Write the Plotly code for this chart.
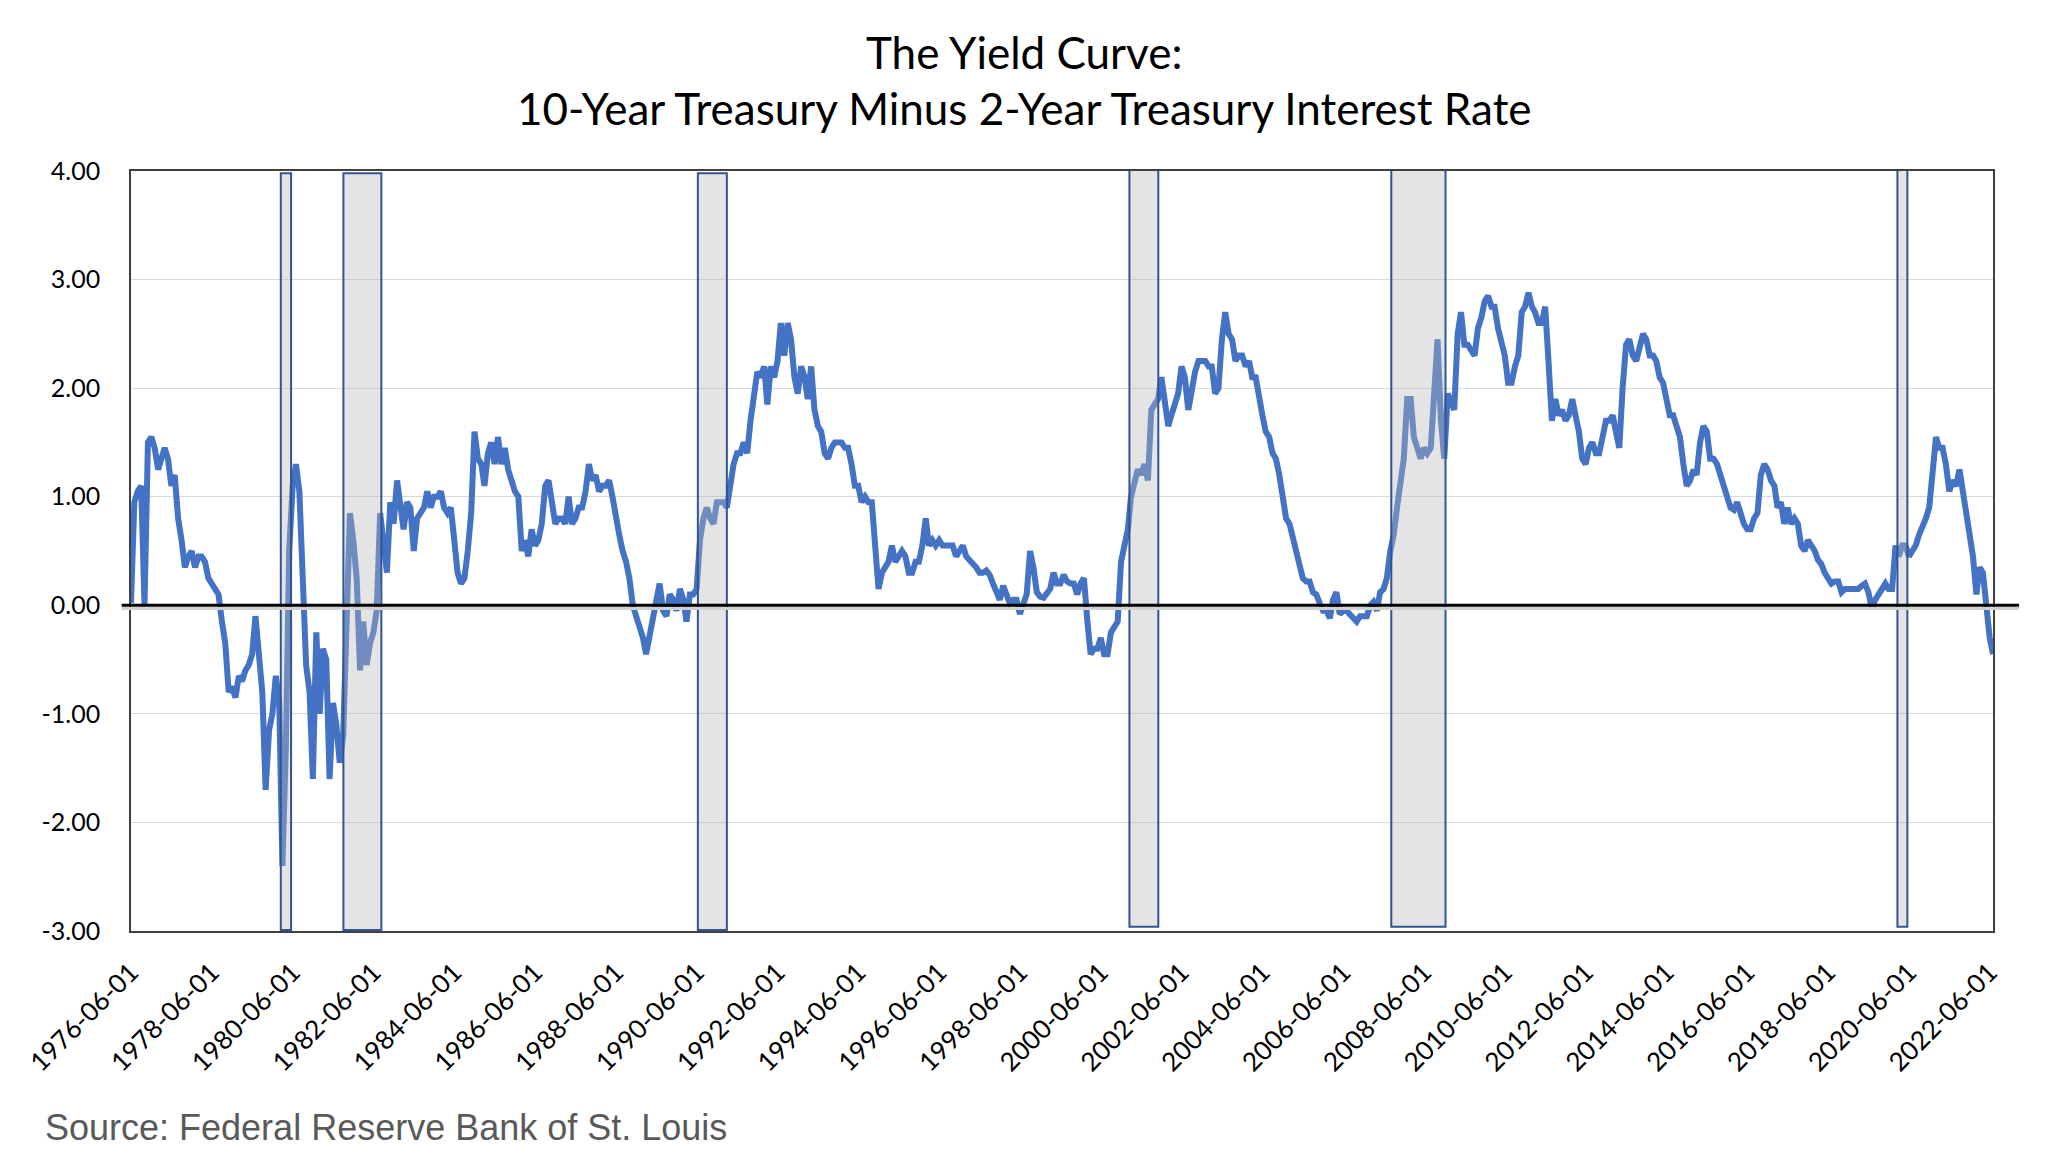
import pandas as pd
import plotly.graph_objects as go

# 10y minus 2y spread, monthly readings (starts 1976-06)
spread = [
    0.02, 0.95, 1.05, 1.1, 0.0, 1.5, 1.55, 1.45, 1.25, 1.35, 1.45, 1.35,
    1.1, 1.2, 0.8, 0.6, 0.35, 0.45, 0.5, 0.35, 0.45, 0.45, 0.4, 0.25,
    0.2, 0.15, 0.1, -0.15, -0.35, -0.8, -0.75, -0.85, -0.65, -0.7, -0.6, -0.55,
    -0.45, -0.1, -0.4, -0.8, -1.7, -1.15, -1.0, -0.65, -0.9, -2.4, -1.3, 0.5,
    1.1, 1.3, 1.05, 0.2, -0.55, -0.8, -1.6, -0.25, -1.0, -0.4, -0.5, -1.6,
    -0.9, -1.1, -1.45, -1.2, -0.3, 0.85, 0.6, 0.25, -0.6, -0.15, -0.55, -0.35,
    -0.25, -0.05, 0.85, 0.5, 0.3, 0.95, 0.75, 1.15, 0.9, 0.7, 0.95, 0.9,
    0.5, 0.8, 0.85, 0.9, 1.05, 0.9, 1.0, 1.0, 1.05, 0.9, 0.85, 0.9,
    0.6, 0.3, 0.2, 0.25, 0.5, 0.85, 1.6, 1.35, 1.3, 1.1, 1.4, 1.5,
    1.3, 1.55, 1.3, 1.45, 1.25, 1.15, 1.05, 1.0, 0.5, 0.6, 0.45, 0.7,
    0.55, 0.6, 0.75, 1.1, 1.15, 0.95, 0.75, 0.8, 0.8, 0.75, 1.0, 0.75,
    0.8, 0.9, 0.9, 1.05, 1.3, 1.15, 1.2, 1.05, 1.1, 1.1, 1.15, 1.0,
    0.8, 0.65, 0.5, 0.4, 0.25, 0.0, -0.1, -0.2, -0.3, -0.45, -0.3, -0.1,
    0.0, 0.2, -0.05, -0.1, 0.1, 0.05, -0.05, 0.15, 0.05, -0.15, 0.1, 0.1,
    0.15, 0.6, 0.8, 0.9, 0.8, 0.75, 0.95, 0.95, 0.95, 0.9, 1.15, 1.3,
    1.4, 1.4, 1.5, 1.4, 1.7, 1.95, 2.15, 2.1, 2.2, 1.85, 2.2, 2.1,
    2.25, 2.6, 2.3, 2.6, 2.45, 2.1, 1.95, 2.2, 2.1, 1.9, 2.2, 1.8,
    1.65, 1.6, 1.4, 1.35, 1.45, 1.5, 1.5, 1.5, 1.45, 1.45, 1.3, 1.1,
    1.1, 0.95, 1.0, 0.95, 0.95, 0.5, 0.15, 0.3, 0.35, 0.4, 0.55, 0.4,
    0.45, 0.5, 0.45, 0.3, 0.3, 0.4, 0.4, 0.55, 0.8, 0.55, 0.6, 0.55,
    0.6, 0.55, 0.55, 0.55, 0.55, 0.45, 0.5, 0.55, 0.45, 0.42, 0.4, 0.35,
    0.3, 0.3, 0.32, 0.28, 0.2, 0.12, 0.05, 0.18, 0.08, 0.02, 0.05, 0.05,
    -0.08, 0.0, 0.1, 0.5, 0.35, 0.12, 0.08, 0.07, 0.12, 0.15, 0.3, 0.2,
    0.2, 0.28, 0.22, 0.2, 0.2, 0.1, 0.2, 0.25, -0.15, -0.45, -0.4, -0.4,
    -0.3, -0.45, -0.45, -0.25, -0.2, -0.15, 0.4, 0.55, 0.7, 1.0, 1.15, 1.25,
    1.2, 1.3, 1.15, 1.8, 1.85, 1.9, 2.1, 1.9, 1.65, 1.75, 1.85, 1.95,
    2.2, 2.1, 1.8, 2.0, 2.15, 2.25, 2.25, 2.25, 2.2, 2.2, 1.95, 2.0,
    2.45, 2.7, 2.5, 2.45, 2.25, 2.3, 2.3, 2.2, 2.25, 2.1, 2.1, 1.9,
    1.75, 1.6, 1.55, 1.4, 1.35, 1.2, 1.0, 0.8, 0.75, 0.62, 0.48, 0.35,
    0.25, 0.22, 0.22, 0.12, 0.1, 0.02, -0.05, -0.05, -0.12, 0.05, 0.12, -0.08,
    -0.05, -0.05, -0.08, -0.12, -0.15, -0.1, -0.1, -0.1, 0.0, 0.03, -0.05, 0.12,
    0.15, 0.25, 0.5, 0.65, 0.9, 1.1, 1.35, 1.9, 1.9, 1.55, 1.45, 1.35,
    1.45, 1.4, 1.45, 1.9, 2.45, 1.7, 1.35, 1.95, 1.85, 1.8, 2.5, 2.7,
    2.4, 2.4, 2.35, 2.3, 2.55, 2.65, 2.8, 2.85, 2.75, 2.75, 2.55, 2.4,
    2.3, 2.05, 2.05, 2.2, 2.3, 2.7, 2.75, 2.88, 2.75, 2.7, 2.6, 2.6,
    2.75, 2.25, 1.7, 1.9, 1.75, 1.8, 1.7, 1.75, 1.9, 1.75, 1.6, 1.35,
    1.3, 1.45, 1.5, 1.4, 1.4, 1.55, 1.7, 1.7, 1.75, 1.6, 1.45, 2.0,
    2.4, 2.45, 2.3, 2.25, 2.35, 2.5, 2.45, 2.3, 2.3, 2.25, 2.1, 2.05,
    1.9, 1.75, 1.75, 1.65, 1.55, 1.3, 1.1, 1.15, 1.25, 1.2, 1.5, 1.65,
    1.6, 1.35, 1.35, 1.3, 1.2, 1.1, 1.0, 0.9, 0.88, 0.95, 0.85, 0.75,
    0.7, 0.7, 0.8, 0.85, 1.2, 1.3, 1.25, 1.15, 1.1, 0.9, 0.95, 0.75,
    0.9, 0.75, 0.8, 0.75, 0.55, 0.5, 0.6, 0.55, 0.5, 0.42, 0.38, 0.3,
    0.25, 0.2, 0.22, 0.22, 0.12, 0.15, 0.15, 0.15, 0.15, 0.15, 0.18, 0.2,
    0.12, -0.03, 0.05, 0.1, 0.15, 0.2, 0.15, 0.15, 0.55, 0.45, 0.55, 0.55,
    0.45, 0.5, 0.55, 0.65, 0.72, 0.8, 0.9, 1.2, 1.55, 1.45, 1.45, 1.3,
    1.05, 1.15, 1.1, 1.25, 1.05, 0.85, 0.7, 0.45, 0.1, 0.35, 0.3, 0.0,
    -0.3, -0.45,
]
months = pd.date_range("1976-06-01", periods=len(spread), freq="MS")

# recession boxes (drawn by hand on the original)
rec_start = ["1980-02-15", "1981-09-03", "1990-06-12", "2001-02-15", "2007-08-10", "2020-02-18"]
rec_end = ["1980-05-18", "1982-08-12", "1991-03-01", "2001-11-03", "2008-12-12", "2020-05-18"]
rec_top = [3.98, 3.98, 3.98, 4.02, 4.02, 4.02]
rec_bottom = [-2.99, -2.99, -2.99, -2.96, -2.96, -2.96]

x_ticks = [f"{y}-06-01" for y in range(1976, 2023, 2)]
y_ticks = [-3, -2, -1, 0, 1, 2, 3, 4]
y_labels = ["-3.00", "-2.00", "-1.00", "0.00", "1.00", "2.00", "3.00", "4.00"]

fig = go.Figure()
fig.add_trace(go.Scatter(x=months, y=spread, mode="lines",
                         line=dict(color="#4472C4", width=6)))

for s, e, t, b in zip(rec_start, rec_end, rec_top, rec_bottom):
    fig.add_shape(type="rect", xref="x", yref="y", x0=s, x1=e, y0=b, y1=t,
                  fillcolor="rgba(184,184,184,0.38)",
                  line=dict(color="#2F5597", width=2), layer="above")

# zero line, runs a little past the plot edges
fig.add_shape(type="line", xref="paper", yref="y", x0=-0.005, x1=1.014, y0=-0.03, y1=-0.03,
              line=dict(color="#d0d0d0", width=3), layer="above")
fig.add_shape(type="line", xref="paper", yref="y", x0=-0.005, x1=1.014, y0=0, y1=0,
              line=dict(color="black", width=3), layer="above")

fig.add_annotation(text="The Yield Curve:", xref="paper", yref="paper", x=0.4796, y=1.1566,
                   xanchor="center", yanchor="middle", showarrow=False,
                   font=dict(family="Lato", size=44, color="black"))
fig.add_annotation(text="10-Year Treasury Minus 2-Year Treasury Interest Rate", xref="paper",
                   yref="paper", x=0.4796, y=1.0829, xanchor="center", yanchor="middle",
                   showarrow=False, font=dict(family="Lato", size=44, color="black"))
fig.add_annotation(text="Source: Federal Reserve Bank of St. Louis", xref="paper", yref="paper",
                   x=-0.0473, y=-0.258, xanchor="left", yanchor="middle", showarrow=False,
                   font=dict(family="Liberation Sans", size=36, color="#595959"))

# page body has an 8px margin, so the figure is 8px smaller than the window
fig.update_layout(
    width=2040, height=1163,
    margin=dict(l=123, r=55, t=163, b=240, autoexpand=False),
    plot_bgcolor="white", paper_bgcolor="white",
    showlegend=False,
    font=dict(family="Lato", color="black"),
)
fig.update_xaxes(type="date", range=["1976-06-01", "2022-07-01"],
                 tickvals=x_ticks, tickformat="%Y-%m-%d", tickangle=-45,
                 tickfont=dict(size=26), showgrid=False,
                 showline=True, linecolor="#404040", linewidth=1.5, mirror=True,
                 ticks="", ticklabelstandoff=14)
fig.update_yaxes(range=[-3, 4], tickvals=y_ticks, ticktext=y_labels,
                 tickfont=dict(size=25), showgrid=True, gridcolor="#d9d9d9", gridwidth=1.3,
                 zeroline=False, showline=True, linecolor="#404040", linewidth=1.5, mirror=True,
                 ticks="", ticklabelstandoff=24)

fig.write_html("out.html")
